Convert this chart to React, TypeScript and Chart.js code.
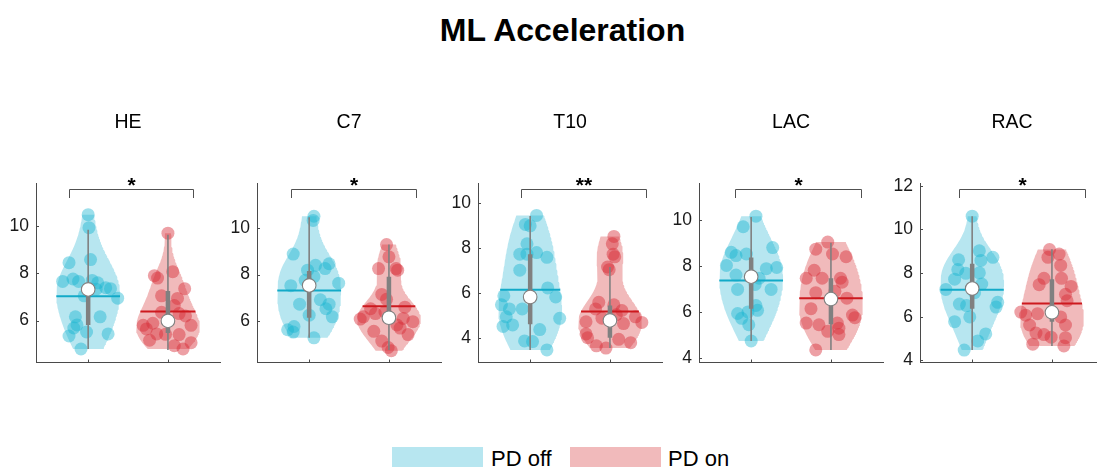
import React, { useEffect, useRef } from 'react';
import { Chart, registerables } from 'chart.js';

Chart.register(...registerables);

// ---------------- DATA ----------------
const chartTitle = 'ML Acceleration';
const panelNames = ['HE', 'C7', 'T10', 'LAC', 'RAC'];
const groupNames = ['PD off', 'PD on'];
const significance = ['*', '*', '**', '*', '*'];

const offValues = [
  [10.48, 9.93, 8.45, 8.58, 7.66, 7.76, 7.66, 7.7, 7.33, 7.39, 6.95, 6.16, 6.16, 5.82, 5.69, 5.35, 5.52, 5.44, 4.8, 7.35, 7.05, 7.6],
  [10.53, 10.35, 8.89, 8.4, 8.26, 8.47, 8.19, 7.91, 7.52, 7.63, 6.72, 6.91, 6.72, 6.52, 6.17, 6.24, 5.61, 5.75, 5.51, 5.26, 7.75],
  [9.46, 9.06, 9.0, 8.2, 7.74, 7.74, 7.81, 7.6, 7.03, 6.24, 5.84, 5.89, 5.49, 5.31, 5.31, 4.96, 4.89, 4.53, 4.6, 4.39, 3.89, 3.86, 3.49],
  [10.18, 9.72, 8.81, 8.6, 8.46, 8.53, 8.03, 7.89, 7.94, 7.61, 7.47, 6.98, 6.98, 6.28, 6.07, 6.0, 5.93, 5.72, 5.44, 4.73, 7.2],
  [10.61, 9.02, 8.72, 8.61, 8.58, 8.16, 7.99, 8.01, 7.72, 7.25, 6.58, 6.51, 6.44, 5.99, 5.77, 5.21, 4.89, 4.47, 6.66, 7.5, 7.1],
];
const offJitter = [
  [0.0, 0.01, -0.24, 0.03, -0.32, -0.19, -0.12, 0.05, 0.1, 0.22, 0.37, -0.16, 0.15, -0.14, -0.18, -0.24, -0.02, 0.25, -0.09, 0.28, -0.05, 0.12],
  [0.06, 0.05, -0.2, 0.08, 0.2, 0.25, -0.02, 0.06, -0.23, 0.37, -0.12, 0.14, 0.25, 0.21, 0.29, 0.0, -0.27, -0.19, -0.2, 0.06, -0.05],
  [0.08, -0.06, 0.0, -0.04, -0.13, -0.04, 0.08, 0.21, -0.13, 0.22, 0.32, -0.33, -0.36, -0.26, -0.1, -0.3, 0.37, -0.34, -0.22, 0.12, -0.07, 0.03, 0.21],
  [0.06, -0.1, 0.27, -0.25, -0.19, -0.06, -0.31, 0.19, 0.32, -0.19, 0.1, 0.25, -0.17, 0.06, 0.08, -0.04, -0.17, -0.12, -0.03, 0.0, 0.05],
  [0.0, 0.09, 0.26, -0.17, 0.11, -0.18, -0.08, 0.09, -0.22, -0.33, -0.16, -0.07, 0.3, -0.03, -0.22, 0.17, 0.07, -0.1, 0.32, 0.12, 0.03],
];
const onValues = [
  [9.7, 7.9, 7.8, 8.07, 7.35, 6.94, 7.05, 6.64, 6.35, 6.3, 6.2, 5.8, 5.89, 5.8, 5.42, 5.44, 5.41, 5.17, 5.07, 4.94, 4.8, 5.65],
  [9.3, 8.77, 8.26, 8.26, 8.19, 7.14, 6.93, 6.59, 6.52, 6.17, 6.07, 6.31, 6.1, 5.96, 5.68, 5.82, 5.54, 5.4, 5.12, 4.84, 4.7, 6.38],
  [8.53, 8.2, 7.74, 7.62, 7.17, 7.05, 5.31, 5.49, 5.24, 4.96, 4.71, 4.74, 4.66, 4.2, 4.03, 3.96, 3.81, 3.57, 3.67, 5.6, 4.9, 5.05],
  [9.05, 8.74, 8.53, 8.41, 7.82, 7.47, 7.47, 7.47, 6.84, 5.51, 5.44, 5.51, 5.29, 5.86, 5.15, 5.01, 4.34, 6.14, 7.3, 6.9, 6.6, 5.75],
  [9.08, 8.87, 8.72, 8.35, 7.76, 7.76, 7.39, 7.03, 6.73, 6.21, 6.07, 6.14, 5.62, 5.99, 5.62, 5.25, 5.18, 5.06, 5.04, 4.74, 4.66, 7.47],
];
const onJitter = [
  [0.0, -0.17, -0.13, 0.06, 0.21, 0.12, -0.08, 0.08, -0.08, 0.14, 0.22, -0.31, -0.19, 0.29, -0.03, -0.14, 0.14, -0.23, 0.29, 0.08, 0.19, -0.27],
  [-0.03, 0.0, -0.13, 0.09, 0.11, -0.09, -0.03, 0.2, -0.23, -0.32, -0.36, -0.17, 0.18, 0.3, 0.14, 0.1, -0.19, 0.24, -0.09, -0.01, 0.03, -0.05],
  [0.05, 0.03, 0.04, 0.06, -0.03, -0.01, -0.18, 0.05, 0.15, 0.32, 0.4, -0.3, 0.17, -0.3, -0.28, 0.11, 0.26, -0.05, -0.17, -0.14, -0.1, 0.08],
  [-0.04, -0.19, 0.02, 0.19, -0.21, -0.31, -0.11, 0.12, -0.19, -0.31, -0.15, 0.08, 0.1, 0.27, -0.04, 0.1, -0.19, -0.25, 0.14, 0.05, 0.2, 0.3],
  [-0.03, 0.09, -0.05, 0.11, -0.1, 0.12, 0.24, 0.17, 0.19, -0.39, -0.33, -0.18, -0.28, 0.11, 0.17, -0.2, -0.1, -0.01, 0.17, -0.24, 0.15, -0.16],
];

// summary statistics
const offMedian = [7.32, 7.53, 5.84, 7.54, 7.29];
const offMean = [7.03, 7.31, 6.16, 7.37, 7.23];
const offQ1 = [5.82, 6.13, 4.63, 6.14, 6.36];
const offQ3 = [7.45, 8.16, 7.74, 8.38, 8.43];
const offWhiskerLow = [4.8, 5.26, 3.49, 4.73, 4.47];
const offWhiskerHigh = [9.84, 10.49, 9.43, 10.14, 10.6];

const onMedian = [5.99, 6.13, 4.8, 6.56, 6.2];
const onMean = [6.39, 6.63, 5.2, 6.6, 6.6];
const onQ1 = [5.48, 5.98, 4.03, 5.46, 5.77];
const onQ3 = [7.25, 7.91, 5.46, 7.47, 7.72];
const onWhiskerLow = [4.76, 4.73, 3.57, 4.34, 4.66];
const onWhiskerHigh = [9.63, 9.3, 7.17, 9.02, 9.09];

const yTickStep = 2;

// ---------------- LAYOUT / STYLE ----------------
const FONT = '"Liberation Sans", Arial, Helvetica, sans-serif';
const PANEL_AXIS_LEFT = [36.3, 257.3, 478, 699, 920];
const AXIS_WIDTH = 186;
const Y_LIMITS = [
  [4.23, 11.82],
  [4.19, 11.97],
  [2.93, 10.9],
  [3.79, 11.63],
  [3.9, 12.13],
];
const X_LIMITS = [0.346, 2.654];
const BRACKET_SPAN = [
  [0.757, 2.31],
  [0.777, 2.34],
  [0.89, 2.45],
  [0.8, 2.38],
  [0.84, 2.42],
];
const VIOLIN_HALF_WIDTH = 0.4;
const BANDWIDTH_SCALE = 1.1;
const AXIS_COLOR = '#4a4a4a';
const GREY = 'rgb(128,128,128)';
const FILL_COLORS = ['rgb(183,230,240)', 'rgb(241,186,187)'];
const DOT_COLORS = ['rgba(20,178,208,0.42)', 'rgba(215,45,55,0.45)'];
const MEAN_COLORS = ['rgb(18,170,200)', 'rgb(205,25,30)'];

const CANVAS_TOP = 100;
const CANVAS_H = 280;
const Y_AXIS_W = 40;
const RIGHT_PAD = 6;

Chart.defaults.font.family = FONT;

function medianOf(arr: number[]): number {
  const s = [...arr].sort((a, b) => a - b);
  const n = s.length;
  return n % 2 ? s[(n - 1) / 2] : (s[n / 2 - 1] + s[n / 2]) / 2;
}

// kernel density profile (MATLAB ksdensity-like bandwidth), cut at data range
function violinProfile(vals: number[]) {
  const n = vals.length;
  const med = medianOf(vals);
  const sig = medianOf(vals.map((v) => Math.abs(v - med))) / 0.6745;
  const h = BANDWIDTH_SCALE * sig * Math.pow(4 / (3 * n), 0.2);
  const lo = Math.min(...vals);
  const hi = Math.max(...vals);
  const N = 100;
  const ys: number[] = [];
  const ds: number[] = [];
  for (let k = 0; k < N; k++) {
    const y = lo + ((hi - lo) * k) / (N - 1);
    let d = 0;
    for (const v of vals) {
      const z = (y - v) / h;
      d += Math.exp(-0.5 * z * z);
    }
    ys.push(y);
    ds.push(d);
  }
  const m = Math.max(...ds);
  return { ys, ws: ds.map((d) => (VIOLIN_HALF_WIDTH * d) / m) };
}

function widthAt(p: { ys: number[]; ws: number[] }, y: number) {
  const { ys, ws } = p;
  if (y <= ys[0]) return ws[0];
  for (let k = 1; k < ys.length; k++) {
    if (y <= ys[k]) {
      const t = (y - ys[k - 1]) / (ys[k] - ys[k - 1]);
      return ws[k - 1] + t * (ws[k] - ws[k - 1]);
    }
  }
  return ws[ws.length - 1];
}

function buildDatasets(i: number) {
  const groups = [
    {
      pos: 1,
      values: offValues[i],
      jitter: offJitter[i],
      median: offMedian[i],
      mean: offMean[i],
      q1: offQ1[i],
      q3: offQ3[i],
      lo: offWhiskerLow[i],
      hi: offWhiskerHigh[i],
    },
    {
      pos: 2,
      values: onValues[i],
      jitter: onJitter[i],
      median: onMedian[i],
      mean: onMean[i],
      q1: onQ1[i],
      q3: onQ3[i],
      lo: onWhiskerLow[i],
      hi: onWhiskerHigh[i],
    },
  ];
  const datasets: any[] = [];
  groups.forEach((g, gi) => {
    const prof = violinProfile(g.values);
    const poly: { x: number; y: number }[] = [];
    for (let k = 0; k < prof.ys.length; k++) poly.push({ x: g.pos + prof.ws[k], y: prof.ys[k] });
    for (let k = prof.ys.length - 1; k >= 0; k--) poly.push({ x: g.pos - prof.ws[k], y: prof.ys[k] });
    datasets.push({
      label: groupNames[gi] + ' violin',
      data: poly,
      fill: 'shape',
      backgroundColor: FILL_COLORS[gi],
      borderColor: 'rgba(0,0,0,0)',
      borderWidth: 0,
      pointRadius: 0,
      tension: 0,
      order: 6,
    });
    datasets.push({
      label: groupNames[gi] + ' points',
      data: g.values.map((v, k) => ({ x: g.pos + g.jitter[k], y: v })),
      showLine: false,
      pointRadius: 6.5,
      pointBackgroundColor: DOT_COLORS[gi],
      pointBorderWidth: 0,
      pointBorderColor: 'rgba(0,0,0,0)',
      order: 5,
    });
    const wm = widthAt(prof, g.mean);
    datasets.push({
      label: groupNames[gi] + ' mean',
      data: [
        { x: g.pos - wm, y: g.mean },
        { x: g.pos + wm, y: g.mean },
      ],
      borderColor: MEAN_COLORS[gi],
      borderWidth: 2,
      pointRadius: 0,
      order: 4,
    });
    datasets.push({
      label: groupNames[gi] + ' whisker',
      data: [
        { x: g.pos, y: g.lo },
        { x: g.pos, y: g.hi },
      ],
      borderColor: GREY,
      borderWidth: 1.6,
      pointRadius: 0,
      order: 3,
    });
    datasets.push({
      label: groupNames[gi] + ' box',
      data: [
        { x: g.pos, y: g.q1 },
        { x: g.pos, y: g.q3 },
      ],
      borderColor: GREY,
      borderWidth: 4.5,
      borderCapStyle: 'butt',
      pointRadius: 0,
      order: 2,
    });
    datasets.push({
      label: groupNames[gi] + ' median',
      data: [{ x: g.pos, y: g.median }],
      showLine: false,
      pointRadius: 6.8,
      pointBackgroundColor: '#ffffff',
      pointBorderColor: GREY,
      pointBorderWidth: 1.1,
      order: 1,
    });
  });
  return datasets;
}

function makeDecor(i: number) {
  return {
    id: 'decor' + i,
    afterDraw(chart: any) {
      const { ctx, chartArea: a, scales } = chart;
      const xs = scales.x;
      const ysc = scales.y;
      ctx.save();
      ctx.strokeStyle = AXIS_COLOR;
      ctx.lineWidth = 1;
      ctx.beginPath();
      ysc.ticks.forEach((t: any) => {
        const py = Math.round(ysc.getPixelForValue(t.value)) + 0.5;
        ctx.moveTo(a.left, py);
        ctx.lineTo(a.left + 3, py);
      });
      [1, 2].forEach((p) => {
        const px = Math.round(xs.getPixelForValue(p)) + 0.5;
        ctx.moveTo(px, a.bottom);
        ctx.lineTo(px, a.bottom - 3);
      });
      ctx.stroke();

      const [b0, b1] = BRACKET_SPAN[i];
      const x0 = Math.round(xs.getPixelForValue(b0)) + 0.5;
      const x1 = Math.round(xs.getPixelForValue(b1)) + 0.5;
      const yb = Math.round(a.top + 6) + 0.5;
      ctx.strokeStyle = '#505050';
      ctx.beginPath();
      ctx.moveTo(x0, yb + 8.5);
      ctx.lineTo(x0, yb);
      ctx.lineTo(x1, yb);
      ctx.lineTo(x1, yb + 8.5);
      ctx.stroke();

      ctx.fillStyle = '#000';
      ctx.font = 'bold 21px ' + FONT;
      ctx.textAlign = 'center';
      ctx.textBaseline = 'alphabetic';
      ctx.fillText(significance[i], (x0 + x1) / 2, a.top + 8.5);
      ctx.restore();
    },
  };
}

function Panel({ i }: { i: number }) {
  const ref = useRef<HTMLCanvasElement>(null);
  useEffect(() => {
    if (!ref.current) return;
    const chart = new Chart(ref.current, {
      type: 'line',
      data: { datasets: buildDatasets(i) },
      options: {
        animation: false,
        responsive: true,
        maintainAspectRatio: false,
        events: [],
        layout: { padding: { left: 0, right: RIGHT_PAD, top: 0, bottom: 0 } },
        plugins: {
          legend: { display: false },
          tooltip: { enabled: false },
          title: {
            display: true,
            text: panelNames[i],
            fullSize: false,
            color: '#000',
            font: { size: 19.5, weight: 'normal', family: FONT, lineHeight: 1.2 },
            padding: { top: 11.3, bottom: 48.3 },
          },
        },
        scales: {
          x: {
            type: 'linear',
            min: X_LIMITS[0],
            max: X_LIMITS[1],
            grid: { display: false, drawTicks: false },
            border: { display: true, color: AXIS_COLOR, width: 1 },
            ticks: { display: false },
            afterFit: (s: any) => {
              s.height = 10;
            },
          },
          y: {
            type: 'linear',
            min: Y_LIMITS[i][0],
            max: Y_LIMITS[i][1],
            grid: { display: false, drawTicks: false },
            border: { display: true, color: AXIS_COLOR, width: 1 },
            ticks: {
              stepSize: yTickStep,
              includeBounds: false,
              color: '#1a1a1a',
              padding: 7,
              font: { size: 17.5, family: FONT },
            },
            afterFit: (s: any) => {
              s.width = Y_AXIS_W;
            },
          },
        },
      } as any,
      plugins: [makeDecor(i)],
    });
    return () => chart.destroy();
  }, [i]);

  return (
    <div
      style={{
        position: 'absolute',
        left: PANEL_AXIS_LEFT[i] - Y_AXIS_W,
        top: CANVAS_TOP,
        width: Y_AXIS_W + AXIS_WIDTH + RIGHT_PAD,
        height: CANVAS_H,
      }}
    >
      <canvas ref={ref} />
    </div>
  );
}

export default function App() {
  return (
    <div
      style={{
        position: 'fixed',
        left: 0,
        top: 0,
        width: 1097,
        height: 468,
        overflow: 'hidden',
        background: '#fff',
        fontFamily: FONT,
      }}
    >
      <div
        style={{
          position: 'absolute',
          left: 0,
          width: 1125,
          top: 14.4,
          textAlign: 'center',
          fontSize: 32,
          lineHeight: '32px',
          fontWeight: 'bold',
          color: '#000',
          whiteSpace: 'nowrap',
        }}
      >
        {chartTitle}
      </div>
      {panelNames.map((_, i) => (
        <Panel key={i} i={i} />
      ))}
      {groupNames.map((name, gi) => (
        <React.Fragment key={name}>
          <div
            style={{
              position: 'absolute',
              left: gi === 0 ? 392 : 570,
              top: 447,
              width: 91,
              height: 20,
              background: FILL_COLORS[gi],
            }}
          />
          <div
            style={{
              position: 'absolute',
              left: gi === 0 ? 491 : 668,
              top: 448,
              fontSize: 22,
              lineHeight: '22px',
              color: '#000',
              whiteSpace: 'nowrap',
            }}
          >
            {name}
          </div>
        </React.Fragment>
      ))}
    </div>
  );
}
